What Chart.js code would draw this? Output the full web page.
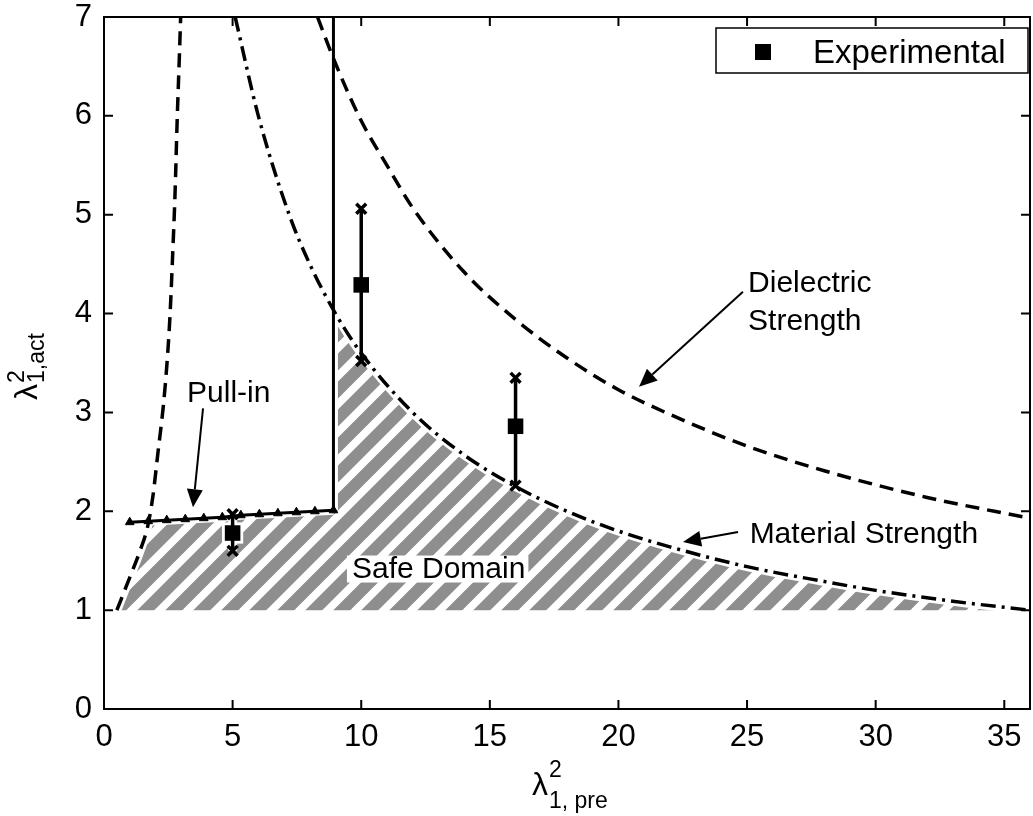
<!DOCTYPE html>
<html>
<head>
<meta charset="utf-8">
<title>Safe Domain</title>
<script src="https://cdn.jsdelivr.net/npm/chart.js@4.4.1/dist/chart.umd.min.js"></script>
<style>
  html, body { margin: 0; padding: 0; background: #fff; }
  #wrap { width: 1033px; height: 816px; }
</style>
</head>
<body>
<div id="wrap"><canvas id="safeChart" width="1033" height="816"></canvas></div>
<script>
// ========== 数据 ==========
const xTickValues = [0, 5, 10, 15, 20, 25, 30, 35];// 横轴刻度
const yTickValues = [0, 1, 2, 3, 4, 5, 6, 7];// 纵轴刻度

// 左侧虚线（陡峭的曲线）
const leftLimitX = [0.5, 1.0, 1.4, 1.7, 1.9, 2.1, 2.3, 2.45, 2.57, 2.67, 2.76, 2.85, 2.93, 2.98];
const leftLimitY = [1.0, 1.33, 1.6, 1.85, 2.15, 2.6, 3.05, 3.5, 4.0, 4.6, 5.2, 6.0, 6.6, 7.0];

// Pull-in 线（带三角标记）
const pullInX = [1.0, 1.72, 2.44, 3.16, 3.88, 4.6, 5.32, 6.04, 6.76, 7.48, 8.2, 8.92];
const pullInY = [1.89, 1.9, 1.91, 1.92, 1.93, 1.94, 1.96, 1.97, 1.98, 1.99, 2.0, 2.01];

// 竖直实线
const wallX = [8.92, 8.92];
const wallY = [2.01, 7.0];

// Dielectric Strength 虚线
const dielectricX = [8.3, 9, 10, 11, 12, 14, 16, 18, 20, 22, 25, 28, 32, 36];
const dielectricY = [7.0, 6.53, 5.95, 5.5, 5.07, 4.42, 3.94, 3.55, 3.23, 2.98, 2.66, 2.41, 2.14, 1.93];

// Material Strength 点划线
const materialX = [5.1, 6, 7.2, 8, 9, 10, 12, 14, 16, 18, 20, 22, 25, 28, 30, 33, 36];
const materialY = [7.0, 6.0, 5.0, 4.5, 4.0, 3.6, 3.0, 2.57, 2.25, 2.0, 1.8, 1.64, 1.44, 1.29, 1.2, 1.09, 1.0];

// Safe Domain 阴影区域边界
const safeX = [0.5, 1.0, 1.4, 1.7, 1.76, 8.92, 8.92, 10, 12, 14, 16, 18, 20, 22, 25, 28, 30, 33, 36, 36, 0.5];
const safeY = [1.0, 1.33, 1.6, 1.85, 1.9, 2.01, 4.04, 3.6, 3.0, 2.57, 2.25, 2.0, 1.8, 1.64, 1.44, 1.29, 1.2, 1.09, 1.0, 1.0, 1.0];

// 实验数据：均值与误差范围
const expX = [5, 10, 16];
const expMean = [1.78, 4.29, 2.86];
const expLow = [1.6, 3.52, 2.26];
const expHigh = [1.97, 5.06, 3.35];

const FONT = "'Liberation Sans', Arial, Helvetica, sans-serif";

function pts(xs, ys) {// 两个数组合成点
    return xs.map((x, i) => ({ x: x, y: ys[i] }));
}

const errPoints = [];// 误差棒，每段之间用 null 断开
expX.forEach((x, i) => {
    errPoints.push({ x: x, y: expLow[i] }, { x: x, y: expHigh[i] }, { x: x, y: null });
});

// 斜线填充图案
function makeHatch() {
    const p = 28;
    const c = document.createElement('canvas');
    c.width = p; c.height = p;
    const t = c.getContext('2d');
    t.strokeStyle = '#8e8e8e';
    t.lineWidth = 12;
    t.beginPath();
    t.moveTo(-p, p); t.lineTo(p, -p);
    t.moveTo(0, 2 * p); t.lineTo(2 * p, 0);
    t.moveTo(p, 3 * p); t.lineTo(3 * p, p);
    t.moveTo(-p, 2 * p); t.lineTo(2 * p, -p);
    t.stroke();
    return t.createPattern(c, 'repeat');
}

const halo = { borderColor: '#fff', borderWidth: 9, pointRadius: 0, showLine: true, order: 5 };

// 坐标框和向内的刻度
const framePlugin = {
    id: 'frame',
    afterDatasetsDraw(chart) {
        const { ctx, chartArea: a, scales } = chart;
        ctx.save();
        ctx.strokeStyle = '#000';
        ctx.lineWidth = 2;
        ctx.strokeRect(a.left, a.top, a.right - a.left, a.bottom - a.top);
        const len = 9;
        ctx.beginPath();
        xTickValues.forEach(v => {
            const px = scales.x.getPixelForValue(v);
            ctx.moveTo(px, a.bottom); ctx.lineTo(px, a.bottom - len);
            ctx.moveTo(px, a.top); ctx.lineTo(px, a.top + len);
        });
        yTickValues.forEach(v => {
            const py = scales.y.getPixelForValue(v);
            ctx.moveTo(a.left, py); ctx.lineTo(a.left + len, py);
            ctx.moveTo(a.right, py); ctx.lineTo(a.right - len, py);
        });
        ctx.stroke();
        ctx.restore();
    }
};

function arrow(ctx, x1, y1, x2, y2) {// 带实心箭头的指示线
    const ang = Math.atan2(y2 - y1, x2 - x1);
    const len = 18, half = 8;
    const bx = x2 - len * Math.cos(ang), by = y2 - len * Math.sin(ang);
    ctx.beginPath();
    ctx.moveTo(x1, y1); ctx.lineTo(bx, by);
    ctx.stroke();
    ctx.beginPath();
    ctx.moveTo(x2, y2);
    ctx.lineTo(bx + half * Math.sin(ang), by - half * Math.cos(ang));
    ctx.lineTo(bx - half * Math.sin(ang), by + half * Math.cos(ang));
    ctx.closePath();
    ctx.fill();
}

// 注释文字、箭头、图例、坐标轴标题
const notesPlugin = {
    id: 'notes',
    afterDraw(chart) {
        const { ctx, chartArea: a, scales } = chart;
        const X = v => scales.x.getPixelForValue(v);
        const Y = v => scales.y.getPixelForValue(v);
        ctx.save();
        ctx.fillStyle = '#000';
        ctx.strokeStyle = '#000';
        ctx.lineWidth = 2;
        ctx.textBaseline = 'alphabetic';
        ctx.textAlign = 'left';

        // Safe Domain 标签（白底）
        ctx.font = '30px ' + FONT;
        const sx = X(9.64), sy = Y(1.33);
        const sw = ctx.measureText('Safe Domain').width;
        ctx.fillStyle = '#fff';
        ctx.fillRect(sx - 5, sy - 22, sw + 8, 27);
        ctx.fillStyle = '#000';
        ctx.fillText('Safe Domain', sx, sy);

        ctx.fillText('Pull-in', X(3.23), Y(3.105));
        ctx.fillText('Dielectric', X(25.04), Y(4.22));
        ctx.fillText('Strength', X(25.04), Y(3.83));
        ctx.fillText('Material Strength', X(25.1), Y(1.68));

        arrow(ctx, X(3.85), Y(3.04), X(3.46), Y(2.04));
        arrow(ctx, X(24.84), Y(4.22), X(20.8), Y(3.26));
        arrow(ctx, X(24.65), Y(1.79), X(22.51), Y(1.69));

        // 图例
        const lx1 = a.right - 2, lx0 = lx1 - 312, ly0 = a.top + 11, ly1 = ly0 + 45;
        ctx.fillStyle = '#fff';
        ctx.fillRect(lx0, ly0, lx1 - lx0, ly1 - ly0);
        ctx.lineWidth = 1.5;
        ctx.strokeRect(lx0, ly0, lx1 - lx0, ly1 - ly0);
        ctx.fillStyle = '#000';
        ctx.fillRect(lx0 + 39, ly0 + 16, 16, 16);
        ctx.font = '33px ' + FONT;
        ctx.fillText('Experimental', lx0 + 97, ly0 + 35);

        // 横轴标题 λ²1, pre
        const cx = (a.left + a.right) / 2;
        const tx = cx - 35, ty = a.bottom + 86;
        ctx.font = '32px ' + FONT;
        ctx.fillText('λ', tx, ty);
        const lw = ctx.measureText('λ').width;
        ctx.font = '23px ' + FONT;
        ctx.fillText('2', tx + lw + 1, ty - 18);
        ctx.fillText('1, pre', tx + lw + 1, ty + 13);

        // 纵轴标题 λ²1,act
        const cy = (a.top + a.bottom) / 2;
        ctx.translate(37, cy + 37);
        ctx.rotate(-Math.PI / 2);
        ctx.font = '32px ' + FONT;
        ctx.fillText('λ', 0, 0);
        ctx.font = '23px ' + FONT;
        ctx.fillText('2', lw + 1, -13);
        ctx.fillText('1,act', lw + 1, 7);
        ctx.restore();
    }
};

const ctx = document.getElementById('safeChart').getContext('2d');
const hatch = makeHatch();

new Chart(ctx, {
    type: 'line',
    data: {
        datasets: [
            {// Safe Domain 阴影
                data: pts(safeX, safeY), fill: 'shape', backgroundColor: hatch,
                borderWidth: 0, borderColor: 'rgba(0,0,0,0)', pointRadius: 0, order: 10
            },
            // 白色描边，让线条与阴影之间留出空隙
            Object.assign({ data: pts(leftLimitX, leftLimitY), cubicInterpolationMode: 'monotone' }, halo),
            Object.assign({ data: pts(pullInX, pullInY) }, halo),
            Object.assign({ data: pts(wallX, wallY) }, halo),
            Object.assign({ data: pts(materialX, materialY), cubicInterpolationMode: 'monotone' }, halo),
            Object.assign({ data: errPoints, spanGaps: false }, halo),
            {
                data: pts(expX, expMean), showLine: false, pointStyle: 'rect', pointRadius: 15,
                pointBackgroundColor: '#fff', pointBorderWidth: 0, order: 5
            },
            {// 左侧虚线
                data: pts(leftLimitX, leftLimitY), borderColor: '#000', borderWidth: 3.5, borderDash: [14, 8],
                cubicInterpolationMode: 'monotone', pointRadius: 0, order: 1
            },
            {// Dielectric Strength
                data: pts(dielectricX, dielectricY), borderColor: '#000', borderWidth: 3.5, borderDash: [14, 8],
                cubicInterpolationMode: 'monotone', pointRadius: 0, order: 1
            },
            {// Material Strength
                data: pts(materialX, materialY), borderColor: '#000', borderWidth: 3.5, borderDash: [15, 6, 3, 6],
                cubicInterpolationMode: 'monotone', pointRadius: 0, order: 1
            },
            {// 竖直实线
                data: pts(wallX, wallY), borderColor: '#000', borderWidth: 3, pointRadius: 0, order: 1
            },
            {// Pull-in
                data: pts(pullInX, pullInY), borderColor: '#000', borderWidth: 3,
                pointStyle: 'triangle', pointRadius: 5, pointBackgroundColor: '#000', pointBorderColor: '#000',
                pointBorderWidth: 1, order: 1
            },
            {// 误差棒
                data: errPoints, spanGaps: false, borderColor: '#000', borderWidth: 3.5,
                pointStyle: 'crossRot', pointRadius: 7, pointBorderColor: '#000', pointBorderWidth: 3.5, order: 0
            },
            {// Experimental
                label: 'Experimental', data: pts(expX, expMean), showLine: false,
                pointStyle: 'rect', pointRadius: 11, pointBackgroundColor: '#000', pointBorderWidth: 0, order: 0
            }
        ]
    },
    options: {
        responsive: false,
        animation: false,
        events: [],
        layout: { autoPadding: false, padding: { top: 17, right: 3, left: 0, bottom: 0 } },
        plugins: { legend: { display: false }, tooltip: { enabled: false } },
        scales: {
            x: {
                type: 'linear', min: 0, max: 36,
                grid: { display: false, drawTicks: false }, border: { display: false },
                ticks: {
                    stepSize: 5, includeBounds: false, padding: 10, maxRotation: 0, autoSkip: false,
                    color: '#000', font: { family: FONT, size: 31 }
                },
                afterFit: s => { s.height = 107; s.paddingLeft = 0; s.paddingRight = 0; }
            },
            y: {
                type: 'linear', min: 0, max: 7,
                grid: { display: false, drawTicks: false }, border: { display: false },
                ticks: { stepSize: 1, padding: 12, color: '#000', font: { family: FONT, size: 31 } },
                afterFit: s => { s.width = 104; s.paddingTop = 0; s.paddingBottom = 0; }
            }
        }
    },
    plugins: [framePlugin, notesPlugin]
});
</script>
</body>
</html>
